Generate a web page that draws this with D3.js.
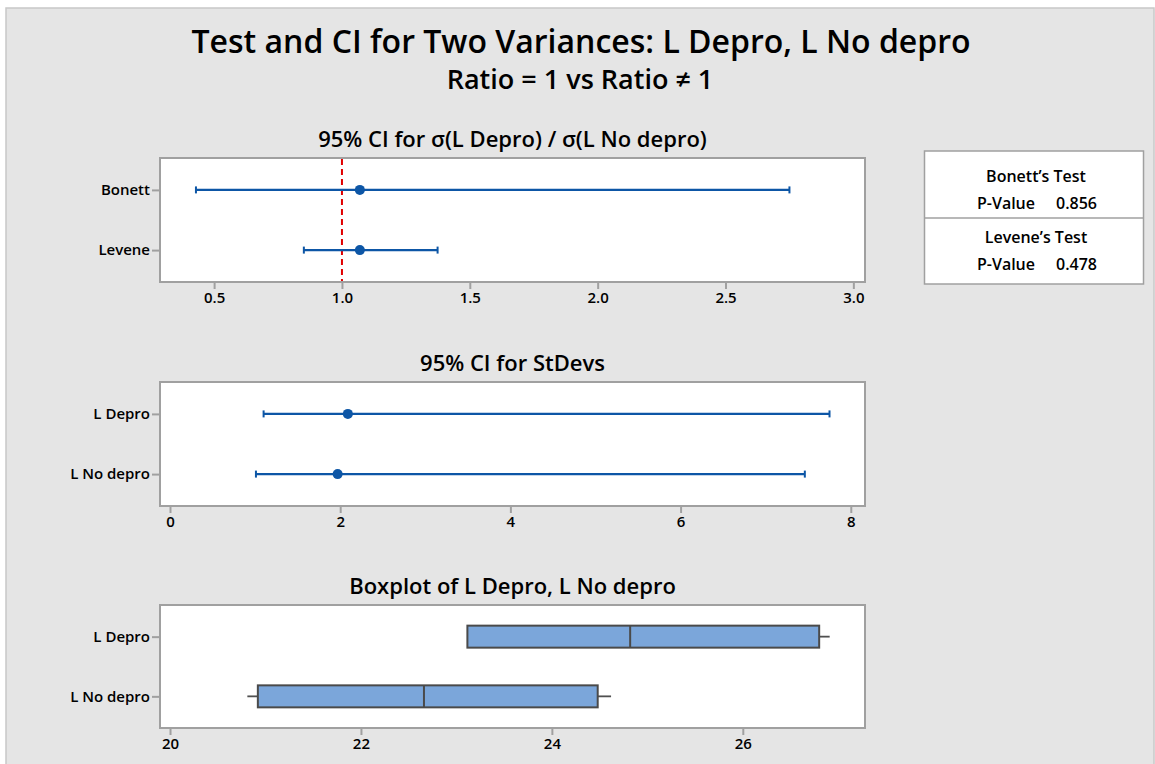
<!DOCTYPE html>
<html><head><meta charset="utf-8">
<script src="https://cdn.jsdelivr.net/npm/d3@7"></script>
<style>
html,body{margin:0;padding:0;background:#fff;}
svg{display:block;font-family:"Open Sans","Noto Sans",sans-serif;}
</style></head>
<body>
<script>
// ---- data ----
const ratioCategories = ["Bonett", "Levene"];
const ratioLower = [0.429, 0.851];
const ratioEstimate = [1.070, 1.070];
const ratioUpper = [2.750, 1.374];
const ratioTicks = [0.5, 1.0, 1.5, 2.0, 2.5, 3.0];
const ratioReference = 1.0;

const sdCategories = ["L Depro", "L No depro"];
const sdLower = [1.10, 1.01];
const sdEstimate = [2.09, 1.97];
const sdUpper = [7.75, 7.46];
const sdTicks = [0, 2, 4, 6, 8];

const boxCategories = ["L Depro", "L No depro"];
const boxMin = [23.115, 20.81];
const boxQ1 = [23.115, 20.92];
const boxMedian = [24.82, 22.66];
const boxQ3 = [26.80, 24.48];
const boxMax = [26.91, 24.62];
const boxTicks = [20, 22, 24, 26];

const testNames = ["Bonett’s Test", "Levene’s Test"];
const pValues = ["0.856", "0.478"];

const mainTitle = "Test and CI for Two Variances: L Depro, L No depro";
const subTitle = "Ratio = 1 vs Ratio ≠ 1";
const panelTitles = ["95% CI for σ(L Depro) / σ(L No depro)", "95% CI for StDevs", "Boxplot of L Depro, L No depro"];

// ---- layout ----
const W = 1155, H = 764;
const svg = d3.select("body").append("svg").attr("width", W).attr("height", H);
const BLUE = "#0d56a6";
const AXIS = "#a0a0a0";

svg.append("rect").attr("x", 6).attr("y", 8).attr("width", 1148).attr("height", 770)
  .attr("fill", "#e5e5e5").attr("stroke", "#c8c8c8").attr("stroke-width", 1.5);

svg.append("text").attr("x", 581).attr("y", 53).attr("text-anchor", "middle")
  .attr("font-size", 32).attr("font-weight", 600).attr("fill", "#000").text(mainTitle);
svg.append("text").attr("x", 580).attr("y", 89).attr("text-anchor", "middle")
  .attr("font-size", 27).attr("font-weight", 600).attr("fill", "#000").text(subTitle);

const fx0 = 160, fx1 = 865;

function panel(top, bottom, title, domain, ticks, cats, fmt) {
  const g = svg.append("g");
  const x = d3.scaleLinear().domain(domain).range([fx0, fx1]);
  const y = d3.scalePoint().domain(cats).range([top, bottom]).padding(0.53);
  g.append("rect").attr("x", fx0).attr("y", top).attr("width", fx1 - fx0).attr("height", bottom - top)
    .attr("fill", "#fff").attr("stroke", AXIS).attr("stroke-width", 2);
  g.append("text").attr("x", (fx0 + fx1) / 2).attr("y", top - 11).attr("text-anchor", "middle")
    .attr("font-size", 22).attr("font-weight", 600).attr("fill", "#000").text(title);
  const xa = g.append("g").attr("transform", `translate(0,${bottom + 1})`)
    .call(d3.axisBottom(x).tickValues(ticks).tickFormat(fmt).tickSize(6).tickPadding(3));
  xa.select(".domain").remove();
  xa.selectAll(".tick line").attr("stroke", AXIS).attr("stroke-width", 2);
  xa.selectAll(".tick text").attr("font-size", 15).attr("font-weight", 600).attr("fill", "#000")
    .attr("font-family", "Open Sans");
  const ya = g.append("g").attr("transform", `translate(${fx0 - 1},0)`)
    .call(d3.axisLeft(y).tickSize(7).tickPadding(2));
  ya.select(".domain").remove();
  ya.selectAll(".tick line").attr("stroke", AXIS).attr("stroke-width", 2);
  ya.selectAll(".tick text").attr("font-size", 15).attr("font-weight", 600).attr("fill", "#000")
    .attr("font-family", "Open Sans");
  return {g, x, y, top, bottom};
}

function intervals(p, cats, lo, est, hi) {
  cats.forEach((c, i) => {
    const yy = p.y(c);
    p.g.append("line").attr("x1", p.x(lo[i])).attr("x2", p.x(hi[i])).attr("y1", yy).attr("y2", yy)
      .attr("stroke", BLUE).attr("stroke-width", 2.2);
    [lo[i], hi[i]].forEach(v => p.g.append("line").attr("x1", p.x(v)).attr("x2", p.x(v))
      .attr("y1", yy - 3.5).attr("y2", yy + 3.5).attr("stroke", BLUE).attr("stroke-width", 2));
    p.g.append("circle").attr("cx", p.x(est[i])).attr("cy", yy).attr("r", 5).attr("fill", BLUE);
  });
}

// Panel 1
const p1 = panel(158, 282, panelTitles[0], [0.2884, 3.0455], ratioTicks, ratioCategories, d3.format(".1f"));
p1.g.append("line").attr("x1", p1.x(ratioReference)).attr("x2", p1.x(ratioReference))
  .attr("y1", p1.top + 1).attr("y2", p1.bottom - 1)
  .attr("stroke", "#e00000").attr("stroke-width", 2).attr("stroke-dasharray", "6,4");
intervals(p1, ratioCategories, ratioLower, ratioEstimate, ratioUpper);

// Panel 2
const p2 = panel(382, 506, panelTitles[1], [-0.1175, 8.167], sdTicks, sdCategories, d3.format("d"));
intervals(p2, sdCategories, sdLower, sdEstimate, sdUpper);

// Panel 3
const p3 = panel(605, 728, panelTitles[2], [19.895, 27.28], boxTicks, boxCategories, d3.format("d"));
boxCategories.forEach((c, i) => {
  const yy = p3.y(c), h = 22;
  const g = p3.g, x = p3.x;
  g.append("line").attr("x1", x(boxMin[i])).attr("x2", x(boxQ1[i])).attr("y1", yy).attr("y2", yy)
    .attr("stroke", "#505050").attr("stroke-width", 1.8);
  g.append("line").attr("x1", x(boxQ3[i])).attr("x2", x(boxMax[i])).attr("y1", yy).attr("y2", yy)
    .attr("stroke", "#505050").attr("stroke-width", 1.8);
  g.append("rect").attr("x", x(boxQ1[i])).attr("y", yy - h / 2).attr("width", x(boxQ3[i]) - x(boxQ1[i]))
    .attr("height", h).attr("fill", "#7ba6da").attr("stroke", "#4a4a4a").attr("stroke-width", 2);
  g.append("line").attr("x1", x(boxMedian[i])).attr("x2", x(boxMedian[i])).attr("y1", yy - h / 2).attr("y2", yy + h / 2)
    .attr("stroke", "#4a4a4a").attr("stroke-width", 2);
});

// Legend box
const lg = svg.append("g");
lg.append("rect").attr("x", 924.5).attr("y", 151).attr("width", 219).attr("height", 133)
  .attr("fill", "#fff").attr("stroke", AXIS).attr("stroke-width", 1.5);
lg.append("line").attr("x1", 925).attr("x2", 1143).attr("y1", 218).attr("y2", 218)
  .attr("stroke", AXIS).attr("stroke-width", 1.5);
testNames.forEach((t, i) => {
  const y0 = 151 + i * 61;
  lg.append("text").attr("x", 1036).attr("y", y0 + 31).attr("text-anchor", "middle")
    .attr("font-size", 16).attr("font-weight", 600).attr("fill", "#000").text(t);
  lg.append("text").attr("x", 1035).attr("y", y0 + 58).attr("text-anchor", "end")
    .attr("font-size", 16).attr("font-weight", 600).attr("fill", "#000").text("P-Value");
  lg.append("text").attr("x", 1056).attr("y", y0 + 58).attr("text-anchor", "start")
    .attr("font-size", 16).attr("font-weight", 600).attr("fill", "#000").text(pValues[i]);
});
</script>
</body></html>
